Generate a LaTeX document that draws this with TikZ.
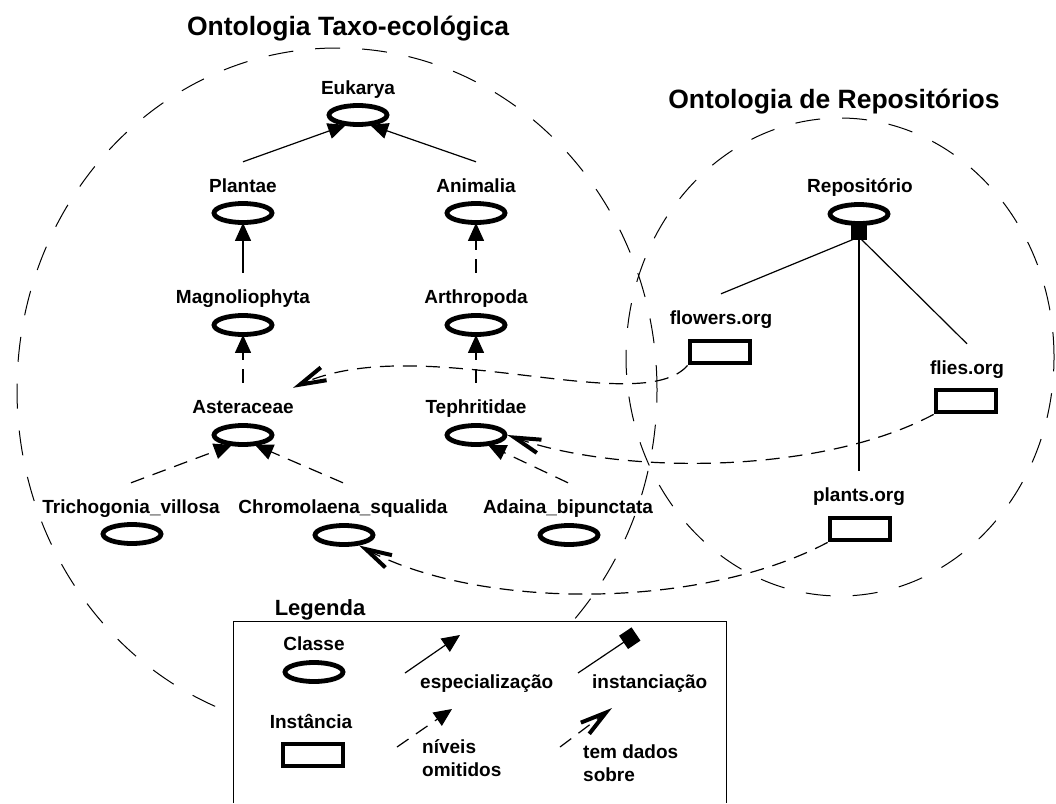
\documentclass[tikz,border=0pt]{standalone}
\usepackage{fontspec}
\setmainfont{Liberation Sans}
\usetikzlibrary{shapes.geometric,arrows.meta,calc}

\begin{document}
\begin{tikzpicture}[x=1pt,y=-1pt,
  lblfont/.style={font=\fontsize{19}{23}\selectfont\bfseries},
  lbl/.style={lblfont, inner sep=0pt, text height=12.5pt, text depth=0pt, minimum height=48pt},
  cls/.style={ellipse, draw, line width=4.8pt, minimum width=58pt, minimum height=19pt, inner sep=0pt},
  inst/.style={rectangle, draw, line width=4.8pt, minimum width=60pt, minimum height=22pt, inner sep=0pt},
  region/.style={draw, line width=1pt, dash pattern=on 25pt off 22pt},
  conn/.style={line width=1.2pt},
  omit/.style={conn, dash pattern=on 14pt off 9pt},
  spec/.style={conn, -{Triangle[length=18pt,width=16pt]}},
  specomit/.style={omit, -{Triangle[length=18pt,width=16pt]}},
  instof/.style={conn, -{Square[length=15pt,width=16pt]}},
  hasdata/.style={omit, -{Straight Barb[length=26pt,width=14pt,line width=4pt]}},
  titlefont/.style={font=\fontsize{26.5}{30}\selectfont\bfseries, inner sep=0pt, text height=19pt, text depth=0pt},
]
% canvas
\fill[white] (0,0) rectangle (1056,803);
\useasboundingbox (0,0) rectangle (1056,803);

% ontology regions
\draw[region] (337,390) ellipse [x radius=320pt, y radius=342pt];
\draw[region] (840,357) ellipse [x radius=214pt, y radius=239pt];

% titles
\node[titlefont] (t1) at (348,26) {Ontologia Taxo-ecológica};
\node[titlefont] (t2) at (834,99) {Ontologia de Repositórios};

% legend frame (open at the bottom)
\fill[white] (233,621) rectangle (726,803);
\draw[line width=1pt] (233,803) -- (233,621) -- (726,621) -- (726,803);

% taxonomic classes
\node[lbl] (eukL) at (358,88) {Eukarya};
\node[cls] (euk) at (358,115) {};
\node[lbl] (plaL) at (243,186) {Plantae};
\node[cls] (pla) at (243,213) {};
\node[lbl] (aniL) at (476,186) {Animalia};
\node[cls] (ani) at (476,213) {};
\node[lbl] (magL) at (243,297) {Magnoliophyta};
\node[cls] (mag) at (243,325) {};
\node[lbl] (artL) at (476,297) {Arthropoda};
\node[cls] (art) at (476,325) {};
\node[lbl] (astL) at (243,407) {Asteraceae};
\node[cls] (ast) at (243,435) {};
\node[lbl] (tepL) at (476,407) {Tephritidae};
\node[cls] (tep) at (476,435) {};
\node[lbl] (triL) at (131,507) {Trichogonia\_villosa};
\node[cls] (tri) at (132,534) {};
\node[lbl] (chrL) at (343,507) {Chromolaena\_squalida};
\node[cls] (chr) at (344,535) {};
\node[lbl] (adaL) at (568,507) {Adaina\_bipunctata};
\node[cls] (ada) at (569,535) {};

% repositories
\node[lbl] (repL) at (860,186) {Repositório};
\node[cls] (rep) at (859,214) {};
\node[lbl] (floL) at (721,318) {flowers.org};
\node[inst] (flo) at (720,352) {};
\node[lbl] (fliL) at (967,368) {flies.org};
\node[inst] (fli) at (966,401) {};
\node[lbl] (plnL) at (859,495) {plants.org};
\node[inst] (pln) at (860,529) {};

% specialisation
\draw[spec] (plaL.north) -- ([xshift=-12pt,yshift=2pt]euk.south);
\draw[spec] (aniL.north) -- ([xshift=12pt,yshift=2pt]euk.south);
\draw[spec] (magL.north) -- ([yshift=2pt]pla.south);
\draw[specomit] (artL.north) -- ([yshift=2pt]ani.south);
\draw[specomit] (astL.north) -- ([yshift=2pt]mag.south);
\draw[specomit] (tepL.north) -- ([yshift=2pt]art.south);
\draw[specomit] (triL.north) -- ([xshift=-11pt,yshift=2pt]ast.south);
\draw[specomit] (chrL.north) -- ([xshift=12pt,yshift=2pt]ast.south);
\draw[specomit] (adaL.north) -- ([xshift=12pt,yshift=2pt]tep.south);

% instantiation
\coordinate (sq) at (859,237);
\draw[conn] (floL.north) -- (sq);
\draw[conn] (fliL.north) -- (sq);
\draw[instof] (plnL.north) -- ([yshift=1pt]rep.south);

% data links
\draw[hasdata] (flo.south west) .. controls (640,420) and (420,330) .. ([xshift=50pt,yshift=-5pt]astL.north);
\draw[hasdata] (fli.south west) .. controls (820,475) and (620,475) .. (tep.east);
\draw[hasdata] (pln.south west) .. controls (700,610) and (480,610) .. (chr.-35);

% legend
\node[font=\fontsize{22}{26}\selectfont\bfseries, inner sep=0pt, text height=16pt, text depth=0pt] (legT) at (320,607) {Legenda};
\node[lbl] (clsL) at (314,644) {Classe};
\node[cls] (clsK) at (314,672) {};
\node[lbl] (insL) at (311,722) {Instância};
\node[inst] (insK) at (313,755) {};

\coordinate (a0) at (405,673); \coordinate (a1) at (460,635);
\draw[spec] (a0) -- (a1);
\node[lbl, anchor=west] (specT) at (420,682) {especialização};

\coordinate (b0) at (578,673); \coordinate (b1) at (636,634);
\draw[instof] (b0) -- (b1);
\node[lbl, anchor=west] (instT) at (592,682) {instanciação};

\coordinate (c0) at (397,747); \coordinate (c1) at (452,709);
\draw[specomit] (c0) -- (c1);
\node[lbl, anchor=west] (omitT1) at (422,747) {níveis};
\node[lbl, anchor=west] (omitT2) at (422,770) {omitidos};

\coordinate (d0) at (560,747); \coordinate (d1) at (612,708);
\draw[hasdata] (d0) -- (d1);
\node[lbl, anchor=west] (dataT1) at (583,752) {tem dados};
\node[lbl, anchor=west] (dataT2) at (583,775) {sobre};
\end{tikzpicture}
\end{document}
